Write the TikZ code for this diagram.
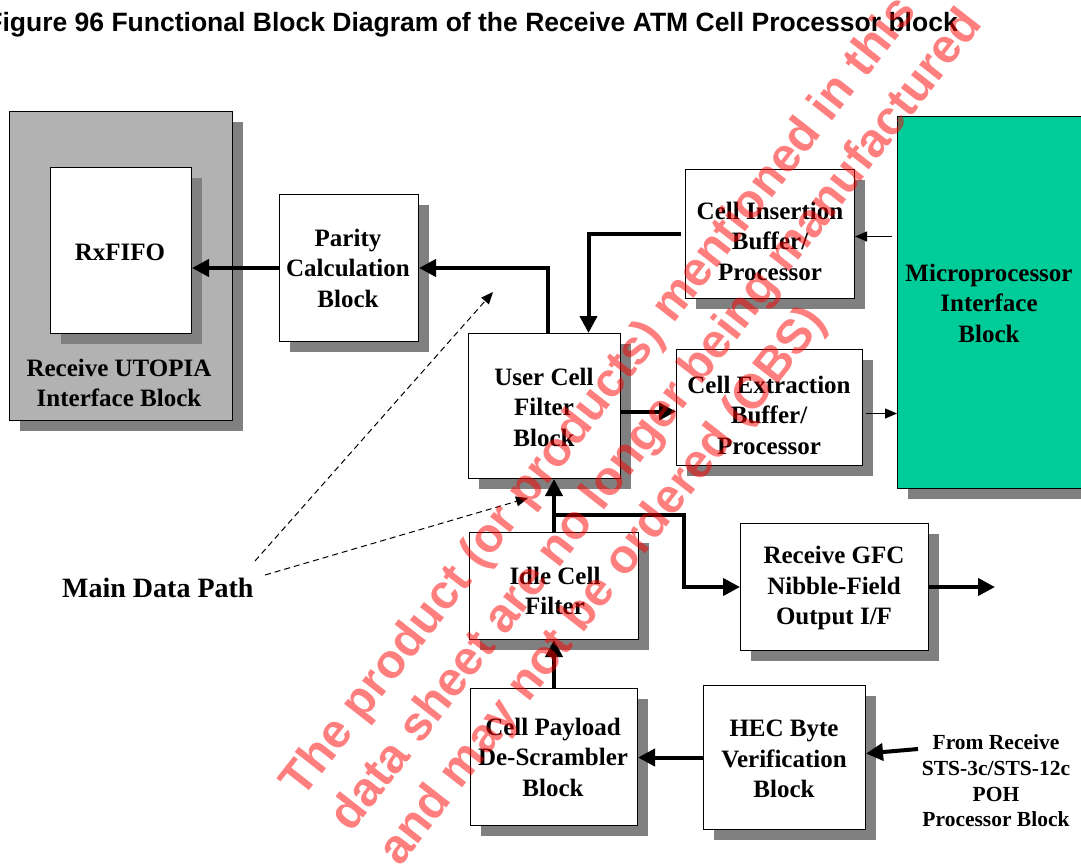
\documentclass[tikz,border=0pt]{standalone}
\usepackage{fontspec}
\setmainfont{Liberation Serif}
\newfontfamily\arialf{Liberation Sans}
\usetikzlibrary{arrows.meta,shadows,calc}
\definecolor{shd}{RGB}{128,128,128}
\definecolor{utop}{RGB}{178,178,178}
\definecolor{mpgreen}{RGB}{0,204,153}
\begin{document}
\begin{tikzpicture}[x=1pt,y=-1pt,
  box/.style={draw=black, line width=1pt, fill=white, inner sep=0pt, anchor=north west,
    drop shadow={shadow xshift=10pt, shadow yshift=-10pt, fill=shd, opacity=1}},
  lbl/.style={align=center, font=\fontsize{25}{30.5}\selectfont\bfseries, inner sep=0pt},
  smalllbl/.style={align=center, font=\fontsize{21.5}{25.7}\selectfont\bfseries, inner sep=0pt},
  thk/.style={line width=4pt, -{Triangle[length=17pt,width=17pt]}},
  thn/.style={line width=1.3pt, -{Triangle[length=12pt,width=10pt]}},
  dsh/.style={line width=1pt, dash pattern=on 6pt off 4pt, -{Triangle[length=12pt,width=10pt]}},
  wmk/.style={anchor=base west, rotate=52, inner sep=0pt, text=red, text opacity=0.5,
    font=\arialf\bfseries\fontsize{48}{48}\selectfont}
]
\useasboundingbox (0,0) rectangle (1081,867);

% title
\node[anchor=base east, inner sep=0pt, font=\arialf\bfseries\fontsize{26.5}{30}\selectfont] (title) at (958,32)
  {Figure 96 Functional Block Diagram of the Receive ATM Cell Processor block};

% boxes
\node[box, fill=utop, minimum width=223pt, minimum height=309pt] (utopia) at (9,111) {};
\node[box, minimum width=141pt, minimum height=166pt] (rxfifo) at (50,167) {};
\node[box, minimum width=139pt, minimum height=147pt] (parity) at (279,194) {};
\node[box, minimum width=152pt, minimum height=145pt] (ucf) at (468,333) {};
\node[box, minimum width=169pt, minimum height=129pt] (cib) at (685,169) {};
\node[box, minimum width=186pt, minimum height=116pt] (ceb) at (676,349) {};
\node[box, fill=mpgreen, minimum width=200pt, minimum height=372pt] (micro) at (897,116) {};
\node[box, minimum width=169pt, minimum height=107pt] (idle) at (469,532) {};
\node[box, minimum width=167pt, minimum height=137pt] (payload) at (470,688) {};
\node[box, minimum width=162pt, minimum height=144pt] (hec) at (703,685) {};
\node[box, minimum width=188pt, minimum height=127pt] (gfc) at (740,523) {};

% texts
\node[lbl] (rxfifot) at (120,252) {RxFIFO};
\node[lbl] (utopiat) at (119,383) {Receive UTOPIA\\Interface Block};
\node[lbl] (parityt) at (348,268) {Parity\\Calculation\\Block};
\node[lbl] (ucft) at (544,407) {User Cell\\Filter\\Block};
\node[lbl] (cibt) at (770,241) {Cell Insertion\\Buffer/\\Processor};
\node[lbl] (cebt) at (769,415) {Cell Extraction\\Buffer/\\Processor};
\node[lbl] (microt) at (989,303) {Microprocessor\\Interface\\Block};
\node[lbl] (idlet) at (555,591) {Idle Cell\\Filter};
\node[lbl] (payloadt) at (553,757) {Cell Payload\\De-Scrambler\\Block};
\node[lbl] (hect) at (784,759) {HEC Byte\\Verification\\Block};
\node[lbl] (gfct) at (834,588) {Receive GFC\\Nibble-Field\\Output I/F};
\node[smalllbl] (fromt) at (996,781) {From Receive\\STS-3c/STS-12c\\POH\\Processor Block};
\node[anchor=base west, inner sep=0pt, font=\fontsize{28}{32}\selectfont\bfseries] (mdp) at (62,597) {Main Data Path};

% connectors
\draw[thk] (parity.west) -- (parity.west -| rxfifo.east);
\draw[thk] ($(ucf.north)+(3,0)$) |- (parity.east);
\draw[thk] ($(cib.west)+(-4,0)$) -| ($(ucf.north)+(44,0)$);
\draw[thk] ($(ucf.east)+(0,5.5)$) -- ($(ceb.west)+(0,4)$);
\draw[thn] ($(micro.west |- cib.east)+(-5,2.5)$) -- ($(cib.east)+(0,2.5)$);
\draw[thn] ($(ceb.east)+(3,6)$) -- ($(micro.west |- ceb.east)+(0,6)$);
\draw[thk] (idle.north) -- (idle.north |- ucf.south);
\coordinate (br) at ($(idle.north)+(-2,-17)$);
\draw[thk] (br) -| ($(gfc.west)+(-56,0)$) -- (gfc.west);
\coordinate (gfcout) at ($(gfc.east)+(66,0)$);
\draw[thk] (gfc.east) -- (gfcout);
\draw[thk] (payload.north) -- (payload.north |- idle.south);
\draw[thk] (hec.west) -- (hec.west -| payload.east);
\coordinate (fromst) at (918,749);
\draw[thk] (fromst) -- ($(hec.east)+(0,-4)$);
\coordinate (d1s) at (255,561);
\coordinate (d1e) at (493,292);
\coordinate (d2s) at (265,575);
\coordinate (d2e) at (528,498);
\draw[dsh] (d1s) -- (d1e);
\draw[dsh] (d2s) -- (d2e);

% watermark
\node[wmk] (wm1) at (302,800) {The product (or products) mentioned in this};
\node[wmk] (wm2) at (351,834) {data sheet are no longer being manufactured};
\node[wmk] (wm3) at (400,868) {and may not be ordered (OBS)};
\end{tikzpicture}
\end{document}
